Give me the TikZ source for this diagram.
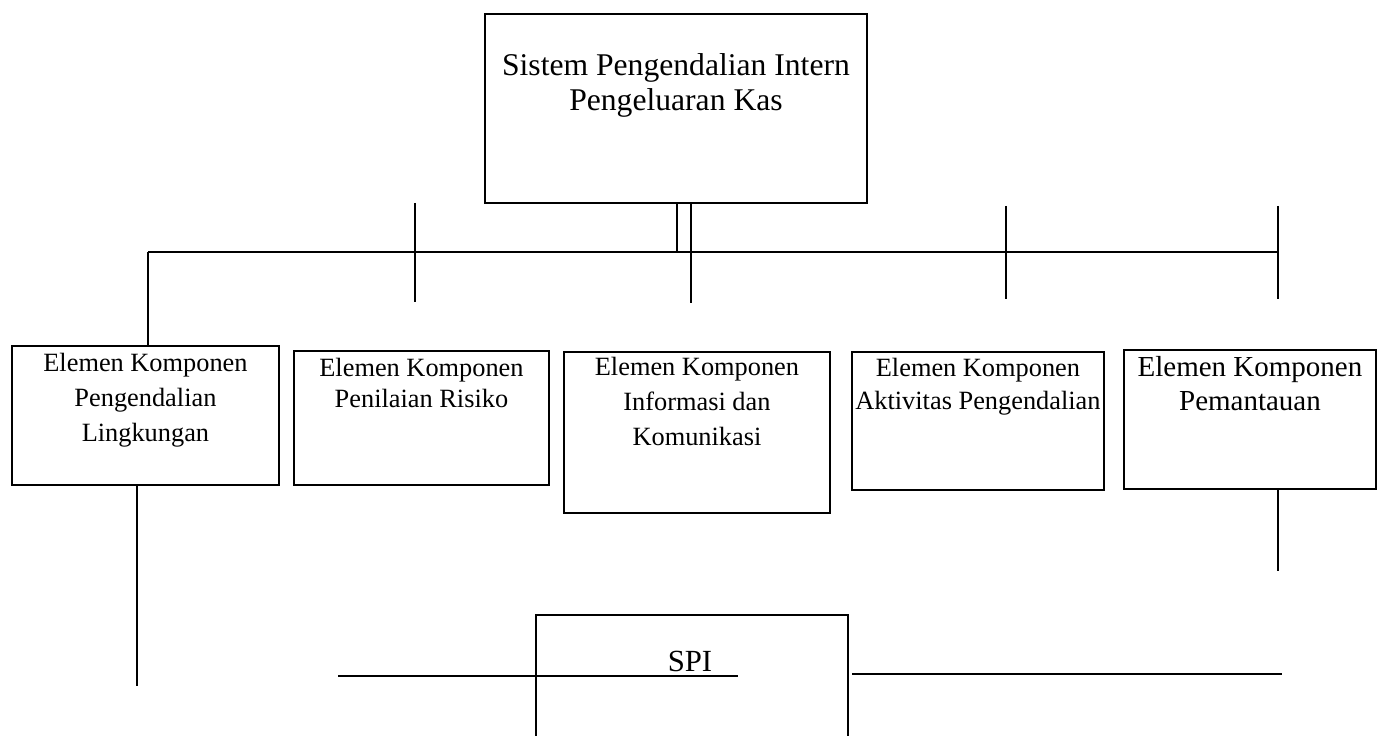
\documentclass[tikz,border=0pt]{standalone}
\usepackage{fontspec}
\setmainfont{Liberation Serif}
\newcommand{\pxu}{0.02cm}

\begin{document}
\begin{tikzpicture}[x=0.02cm, y=-0.02cm,
  kotak/.style={draw, line width=1.1pt, inner sep=0pt, anchor=north west},
  isi/.style={anchor=north, inner sep=0pt, align=center, font=\fontsize{15}{20}\selectfont},
  garis/.style={line width=1.1pt}]
\useasboundingbox (0,0) rectangle (1383,736);

\node[kotak, minimum width=382*\pxu, minimum height=189*\pxu] (sistem) at (484,13) {};
\node[isi, font=\fontsize{18}{19.8}\selectfont] (sistemt) at ([yshift=-40*\pxu]sistem.north) {Sistem Pengendalian Intern\\Pengeluaran Kas};

\node[kotak, minimum width=267*\pxu, minimum height=139*\pxu] (kom1) at (11,345) {};
\node[kotak, minimum width=255*\pxu, minimum height=134*\pxu] (kom2) at (293,350) {};
\node[kotak, minimum width=266*\pxu, minimum height=161*\pxu] (kom3) at (563,351) {};
\node[kotak, minimum width=252*\pxu, minimum height=138*\pxu] (kom4) at (851,351) {};
\node[kotak, minimum width=252*\pxu, minimum height=139*\pxu] (kom5) at (1123,349) {};

\node[isi] (kom1t) at ([yshift=-7.5*\pxu]kom1.north) {Elemen Komponen\\Pengendalian\\Lingkungan};
\node[isi, font=\fontsize{15}{17.6}\selectfont] (kom2t) at ([yshift=-7.5*\pxu]kom2.north) {Elemen Komponen\\Penilaian Risiko};
\node[isi] (kom3t) at ([yshift=-6*\pxu]kom3.north) {Elemen Komponen\\Informasi dan\\Komunikasi};
\node[isi, font=\fontsize{15}{18.7}\selectfont] (kom4t) at ([yshift=-7.3*\pxu]kom4.north) {Elemen Komponen\\Aktivitas Pengendalian};
\node[isi, font=\fontsize{16.5}{19.3}\selectfont] (kom5t) at ([yshift=-7.5*\pxu]kom5.north) {Elemen Komponen\\Pemantauan};

\node[inner sep=0pt, minimum width=311*\pxu, minimum height=121*\pxu, anchor=north west] (spi) at (536,615) {};
\node[anchor=base, inner sep=0pt, font=\fontsize{17.5}{20}\selectfont] (spit) at (690,671) {SPI};
\draw[garis] (spi.south west) |- (spi.north east) -- (spi.south east);

% garis penghubung
\coordinate (busL) at (148,252);
\coordinate (busR) at (1278,252);
\draw[garis] (busL) -- (busR);
\draw[garis] (busL) -- (busL |- kom1.north);

\coordinate (dl) at (677,252);
\coordinate (dr) at (691,303);
\draw[garis] (dl |- sistem.south) -- (dl);
\draw[garis] (dr |- sistem.south) -- (dr);

\foreach \tx/\ta/\tb in {415/203/302, 1006/206/299, 1278/206/299}{
  \coordinate (ta) at (\tx,\ta);
  \coordinate (tb) at (\tx,\tb);
  \draw[garis] (ta) -- (tb);
}

\coordinate (k1end) at (137,686);
\draw[garis] (k1end |- kom1.south) -- (k1end);
\coordinate (k5end) at (1278,571);
\draw[garis] (k5end |- kom5.south) -- (k5end);

\coordinate (sl1) at (338,676);
\coordinate (sl2) at (738,676);
\draw[garis] (sl1) -- (sl2);
\coordinate (sr1) at (852,674);
\coordinate (sr2) at (1282,674);
\draw[garis] (sr1) -- (sr2);

\end{tikzpicture}
\end{document}
